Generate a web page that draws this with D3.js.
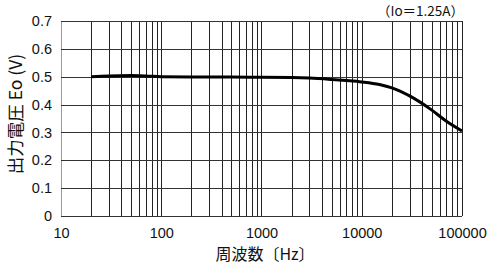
<!DOCTYPE html>
<html>
<head>
<meta charset="utf-8">
<script src="https://cdn.jsdelivr.net/npm/d3@7"></script>
<style>
  body { margin: 0; background: #fff; }
  text { font-family: "Liberation Sans", Arial, sans-serif; fill: #111; }
  .jp { font-family: "Noto Sans CJK JP", "Noto Sans", sans-serif; }
</style>
</head>
<body>
<div id="chart"></div>
<script>
// data
var freqs = [20, 30, 50, 70, 100, 200, 500, 1000, 2000, 3000, 5000, 7000, 10000, 15000, 20000, 30000, 50000, 70000, 100000];
var volts = [0.500, 0.503, 0.504, 0.503, 0.500, 0.499, 0.499, 0.498, 0.497, 0.495, 0.490, 0.486, 0.481, 0.472, 0.460, 0.431, 0.380, 0.340, 0.305];
var xTicks = [10, 100, 1000, 10000, 100000];
var yTicks = [0, 0.1, 0.2, 0.3, 0.4, 0.5, 0.6, 0.7];

var W = 490, H = 266;
var m = {left: 61, right: 28, top: 21, bottom: 50};

var svg = d3.select('#chart').append('svg').attr('width', W).attr('height', H);
var g = svg.append('g').attr('transform', 'translate(' + m.left + ',' + m.top + ')');
var w = W - m.left - m.right, h = H - m.top - m.bottom;

var x = d3.scaleLog().domain([10, 100000]).range([0, w]);
var y = d3.scaleLinear().domain([0, 0.7]).range([h, 0]);

//minor + major vertical grid
var vlines = [];
for (var d = 10; d < 100000; d *= 10) {
    for (var k = 1; k < 10; k++) vlines.push(d * k);
}
vlines.push(100000);
g.append('g').selectAll('line').data(vlines).enter().append('line')
    .attr('x1', function(v){ return Math.round(x(v)) + 0.5; })
    .attr('x2', function(v){ return Math.round(x(v)) + 0.5; })
    .attr('y1', 0).attr('y2', h)
    .attr('stroke', function(v){ return v === 10 ? '#999' : '#222'; })
    .attr('stroke-width', 1);

// horizontal grid
g.append('g').selectAll('line').data(yTicks).enter().append('line')
    .attr('x1', 0).attr('x2', w)
    .attr('y1', function(v){ return Math.round(y(v)) + 0.5; })
    .attr('y2', function(v){ return Math.round(y(v)) + 0.5; })
    .attr('stroke', '#333').attr('stroke-width', 1);

// axes (labels only)
var xAxis = g.append('g').attr('transform', 'translate(0,' + h + ')')
    .call(d3.axisBottom(x).tickValues(xTicks).tickFormat(d3.format('d')).tickSize(0).tickPadding(12));
var yAxis = g.append('g')
    .call(d3.axisLeft(y).tickValues(yTicks).tickFormat(function(v){ return v === 0 ? '0' : d3.format('.1f')(v); }).tickSize(0).tickPadding(9));
[xAxis, yAxis].forEach(function(a){
    a.select('.domain').remove();
    a.selectAll('text').style('font-family', '"Liberation Sans", Arial, sans-serif').style('font-size', '14.5px').attr('fill', '#111');
});

// curve
var line = d3.line()
    .x(function(d, i){ return x(freqs[i]); })
    .y(function(d){ return y(d); })
    .curve(d3.curveMonotoneX);
g.append('path').datum(volts)
    .attr('d', line).attr('fill', 'none')
    .attr('stroke', '#000').attr('stroke-width', 3);

// titles
svg.append('text').attr('class', 'jp')
    .attr('x', 265).attr('y', 260)
    .attr('text-anchor', 'middle').style('font-size', '16px')
    .text('周波数〔Hz〕');
svg.append('text').attr('class', 'jp')
    .attr('transform', 'translate(22,114) rotate(-90)')
    .attr('text-anchor', 'middle').style('font-size', '17.5px')
    .text('出力電圧 Eo (V)');
svg.append('text').attr('class', 'jp')
    .attr('x', m.left + w + 2).attr('y', 16)
    .attr('text-anchor', 'end').style('font-size', '13.5px')
    .text('（Io＝1.25A）');
</script>
</body>
</html>
